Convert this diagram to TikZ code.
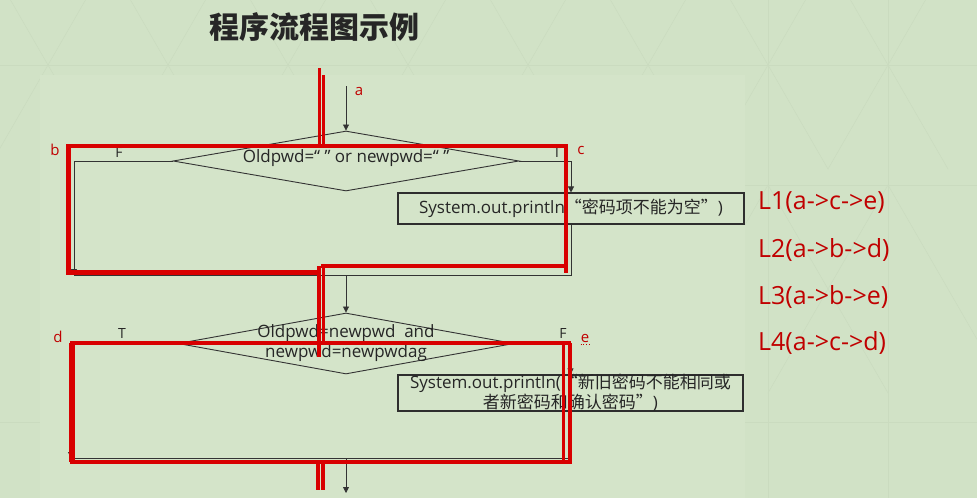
\documentclass[tikz,border=0pt]{standalone}
\usepackage{fontspec}
\setmainfont{Open Sans}
\newfontfamily\cjk{Noto Sans CJK SC}
\usetikzlibrary{shapes.geometric,arrows.meta}
\definecolor{bg}{HTML}{D1E2C6}
\definecolor{panel}{HTML}{D4E4C9}
\definecolor{gridc}{HTML}{CADBBF}
\definecolor{redline}{HTML}{D80000}
\definecolor{redtext}{HTML}{C00000}
\definecolor{ink}{HTML}{333333}
\tikzset{
  flow/.style={draw=ink, line width=0.8pt},
  arr/.style={flow, -{Triangle[length=6pt,width=6pt]}},
  dia/.style={diamond, draw=ink, line width=0.9pt, inner sep=0pt},
  boxn/.style={draw=ink!90!black, line width=1.1pt, inner sep=0pt},
  txt/.style={inner sep=0pt, text=black!85, font=\fontsize{17}{20}\selectfont},
  tf/.style={inner sep=0pt, text=black!85, font=\fontsize{14}{16}\selectfont},
  rl/.style={inner sep=0pt, text=redtext, font=\fontsize{15}{17}\selectfont},
  ll/.style={inner sep=0pt, anchor=west, text=redtext, font=\fontsize{25}{28}\selectfont},
  redmark/.style={draw=redline, line width=3.6pt},
  redmarkw/.style={draw=redline, line width=5.5pt}
}
\begin{document}
\begin{tikzpicture}[x=1pt,y=-1pt]
\fill[bg] (0,0) rectangle (977,498);
\useasboundingbox (0,0) rectangle (977,498);
% faint background grid
\foreach \x in {48,168,288,408,528,648,768,888} {
  \draw[gridc, line width=0.5pt] (\x,65) -- ++(60,-104);
  \draw[gridc, line width=0.5pt] (\x,65) -- ++(-60,-104);
  \draw[gridc, line width=0.5pt] (\x,65) -- ++(60,104);
  \draw[gridc, line width=0.5pt] (\x,65) -- ++(-60,104);
}
\draw[gridc, line width=0.5pt] (0,65) -- (977,65);
\foreach \x in {768,888} {
  \draw[gridc, line width=0.5pt] (\x,185) -- ++(120,208);
  \draw[gridc, line width=0.5pt] (\x,185) -- ++(-120,208);
  \draw[gridc, line width=0.5pt] (\x,0) -- (\x,498);
}
\draw[gridc, line width=0.5pt] (745,185) -- (977,185);
\draw[gridc, line width=0.5pt] (745,422) -- (977,422);
\draw[gridc, line width=0.5pt] (0,422) -- (40,422);
\fill[panel] (40,75) rectangle (745,498);

% title
\node[inner sep=0pt, text=black!85, font=\cjk\bfseries\fontsize{30}{32}\selectfont] (title) at (314,27) {程序流程图示例};

% ---------- first decision ----------
\coordinate (a0) at (346,86);
\node[dia, aspect=5.767, minimum width=346pt, minimum height=60pt] (d1) at (346,161) {};
\node[txt] (d1t) at (346,158) {Oldpwd=“ ” or newpwd=“ ”};
\node[boxn, minimum width=346pt, minimum height=31pt] (b1) at (571,208.5) {};
\node[txt] (b1t) at (571,208.5) {System.out.println{\cjk “密码项不能为空”})};
\coordinate (l1) at (74,161);
\coordinate (l1b) at (74,275);
\coordinate (r1) at (571,161);
\coordinate (r1b) at (571,275);
\coordinate (m1) at (346,275);
\draw[arr] (a0) -- (d1.north);
\draw[arr] (d1.west) -- (l1) -- (l1b);
\draw[arr] (d1.east) -- (r1) -- (b1.north);
\draw[flow] (b1.south) -- (r1b) -- (l1b);
\node[tf] (f1) at (119,152) {F};
\node[tf] (t1) at (557,152) {T};

% ---------- second decision ----------
\node[dia, aspect=5.508, minimum width=336pt, minimum height=61pt] (d2) at (346,343.5) {};
\node[txt, align=center] (d2t) at (346,343) {Oldpwd=newpwd\ \ and\\newpwd=newpwdag};
\draw[arr] (m1) -- (d2.north);
\node[boxn, minimum width=345pt, minimum height=36pt] (b2) at (570.5,393) {};
\node[txt, align=center] (b2t) at (570.5,393) {System.out.println({\cjk “新旧密码不能相同或}\\{\cjk 者新密码和确认密码”})};
\coordinate (l2) at (71,343.5);
\coordinate (l2b) at (71,458);
\coordinate (r2) at (570.5,343.5);
\coordinate (r2b) at (570.5,458);
\coordinate (m2) at (346,458);
\coordinate (end) at (346,493);
\draw[arr] (d2.west) -- (l2) -- (l2b);
\draw[arr] (d2.east) -- (r2) -- (b2.north);
\draw[flow] (b2.south) -- (r2b) -- (l2b);
\draw[arr] (m2) -- (end);
\node[tf] (t2) at (122,333) {T};
\node[tf] (f2) at (563,333) {F};

% ---------- red path markings ----------
\draw[redmark] (319.5,68) -- (319.5,146);
\draw[redmark] (323.5,75) -- (323.5,146);
\draw[redmark] (66,146) -- (566,146) -- (566,273);
\draw[redmarkw] (68.5,146) -- (68.5,272.5) -- (321,272.5);
\draw[redmark] (321,266) -- (566,266);
\draw[redmark] (319,266) -- (319,357);
\draw[redmark] (323.5,266) -- (323.5,343);
\draw[redmark] (70,343) -- (571,343);
\draw[redmarkw] (72,343) -- (72,462);
\draw[redmark] (70,462) -- (571,462);
\draw[redmark] (563.5,343) -- (563.5,463.5);
\draw[redmark] (570,343) -- (570,463.5);
\draw[redmark] (318,462) -- (318,490);
\draw[redmark] (323,462) -- (323,490);

% red point labels
\node[rl] (la) at (359,91) {a};
\node[rl] (lb) at (55,150) {b};
\node[rl] (lc) at (581,150) {c};
\node[rl] (ld) at (58,337) {d};
\node[rl] (le) at (585,338) {e};
\draw[redtext, dotted, line width=0.8pt] ([yshift=-2pt]le.south west) -- ([yshift=-2pt]le.south east);

% path list
\node[ll] (p1) at (758,203) {L1(a->c->e)};
\node[ll] (p2) at (758,250) {L2(a->b->d)};
\node[ll] (p3) at (758,297) {L3(a->b->e)};
\node[ll] (p4) at (758,343) {L4(a->c->d)};
\end{tikzpicture}
\end{document}
